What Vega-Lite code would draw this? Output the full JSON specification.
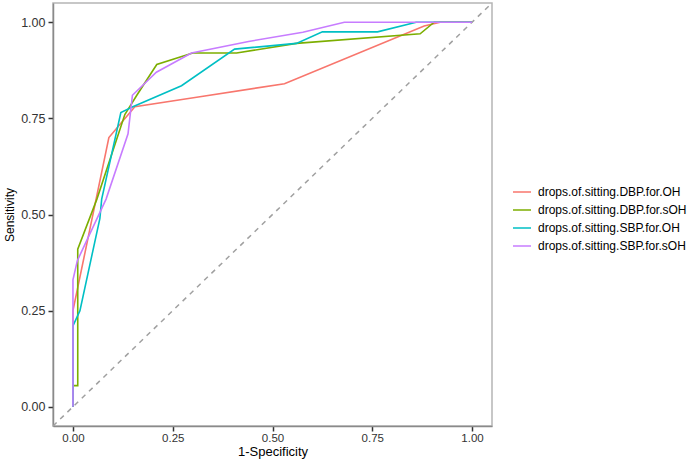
{
  "$schema": "https://vega.github.io/schema/vega-lite/v6.json",
  "autosize": {"type": "none"},
  "width": 439,
  "height": 423,
  "padding": {"left": 53, "top": 3, "right": 208, "bottom": 35},
  "background": "white",
  "config": {
    "font": "Liberation Sans",
    "view": {"stroke": "#b5b5b5", "strokeWidth": 1.5},
    "axis": {
      "grid": false,
      "domainColor": "#8a8a8a",
      "domainWidth": 1.5,
      "tickColor": "#333333",
      "tickWidth": 1.5,
      "tickSize": 5,
      "labelColor": "#333333",
      "labelFont": "Liberation Sans",
      "labelFontSize": 12.5,
      "titleFont": "Liberation Sans",
      "titleFontWeight": "normal",
      "titleColor": "#000000"
    }
  },
  "layer": [
    {
      "data": {"values": [{"fpr": -0.05, "tpr": -0.05}, {"fpr": 1.05, "tpr": 1.05}]},
      "mark": {"type": "line", "color": "#a0a0a0", "strokeDash": [5, 5], "strokeWidth": 1.5, "clip": true},
      "encoding": {
        "x": {"field": "fpr", "type": "quantitative", "scale": {"domain": [-0.05, 1.05], "nice": false, "zero": false}},
        "y": {"field": "tpr", "type": "quantitative", "scale": {"domain": [-0.05, 1.05], "nice": false, "zero": false}}
      }
    },
    {
      "data": {"values": [
        {"series": "drops.of.sitting.DBP.for.OH", "i": 0, "fpr": 0, "tpr": 0},
        {"series": "drops.of.sitting.DBP.for.OH", "i": 1, "fpr": 0, "tpr": 0.25},
        {"series": "drops.of.sitting.DBP.for.OH", "i": 2, "fpr": 0.09, "tpr": 0.70},
        {"series": "drops.of.sitting.DBP.for.OH", "i": 3, "fpr": 0.155, "tpr": 0.78},
        {"series": "drops.of.sitting.DBP.for.OH", "i": 4, "fpr": 0.31, "tpr": 0.805},
        {"series": "drops.of.sitting.DBP.for.OH", "i": 5, "fpr": 0.53, "tpr": 0.84},
        {"series": "drops.of.sitting.DBP.for.OH", "i": 6, "fpr": 0.88, "tpr": 0.99},
        {"series": "drops.of.sitting.DBP.for.OH", "i": 7, "fpr": 0.92, "tpr": 1.0},
        {"series": "drops.of.sitting.DBP.for.OH", "i": 8, "fpr": 1.0, "tpr": 1.0},
        {"series": "drops.of.sitting.DBP.for.sOH", "i": 0, "fpr": 0, "tpr": 0},
        {"series": "drops.of.sitting.DBP.for.sOH", "i": 1, "fpr": 0, "tpr": 0.055},
        {"series": "drops.of.sitting.DBP.for.sOH", "i": 2, "fpr": 0.012, "tpr": 0.055},
        {"series": "drops.of.sitting.DBP.for.sOH", "i": 3, "fpr": 0.012, "tpr": 0.41},
        {"series": "drops.of.sitting.DBP.for.sOH", "i": 4, "fpr": 0.06, "tpr": 0.54},
        {"series": "drops.of.sitting.DBP.for.sOH", "i": 5, "fpr": 0.13, "tpr": 0.76},
        {"series": "drops.of.sitting.DBP.for.sOH", "i": 6, "fpr": 0.16, "tpr": 0.81},
        {"series": "drops.of.sitting.DBP.for.sOH", "i": 7, "fpr": 0.21, "tpr": 0.89},
        {"series": "drops.of.sitting.DBP.for.sOH", "i": 8, "fpr": 0.30, "tpr": 0.92},
        {"series": "drops.of.sitting.DBP.for.sOH", "i": 9, "fpr": 0.41, "tpr": 0.92},
        {"series": "drops.of.sitting.DBP.for.sOH", "i": 10, "fpr": 0.56, "tpr": 0.945},
        {"series": "drops.of.sitting.DBP.for.sOH", "i": 11, "fpr": 0.87, "tpr": 0.97},
        {"series": "drops.of.sitting.DBP.for.sOH", "i": 12, "fpr": 0.905, "tpr": 1.0},
        {"series": "drops.of.sitting.DBP.for.sOH", "i": 13, "fpr": 1.0, "tpr": 1.0},
        {"series": "drops.of.sitting.SBP.for.OH", "i": 0, "fpr": 0, "tpr": 0},
        {"series": "drops.of.sitting.SBP.for.OH", "i": 1, "fpr": 0, "tpr": 0.21},
        {"series": "drops.of.sitting.SBP.for.OH", "i": 2, "fpr": 0.0175, "tpr": 0.25},
        {"series": "drops.of.sitting.SBP.for.OH", "i": 3, "fpr": 0.0675, "tpr": 0.49},
        {"series": "drops.of.sitting.SBP.for.OH", "i": 4, "fpr": 0.072, "tpr": 0.54},
        {"series": "drops.of.sitting.SBP.for.OH", "i": 5, "fpr": 0.12, "tpr": 0.765},
        {"series": "drops.of.sitting.SBP.for.OH", "i": 6, "fpr": 0.15, "tpr": 0.78},
        {"series": "drops.of.sitting.SBP.for.OH", "i": 7, "fpr": 0.272, "tpr": 0.835},
        {"series": "drops.of.sitting.SBP.for.OH", "i": 8, "fpr": 0.405, "tpr": 0.93},
        {"series": "drops.of.sitting.SBP.for.OH", "i": 9, "fpr": 0.56, "tpr": 0.945},
        {"series": "drops.of.sitting.SBP.for.OH", "i": 10, "fpr": 0.625, "tpr": 0.975},
        {"series": "drops.of.sitting.SBP.for.OH", "i": 11, "fpr": 0.763, "tpr": 0.975},
        {"series": "drops.of.sitting.SBP.for.OH", "i": 12, "fpr": 0.86, "tpr": 1.0},
        {"series": "drops.of.sitting.SBP.for.OH", "i": 13, "fpr": 1.0, "tpr": 1.0},
        {"series": "drops.of.sitting.SBP.for.sOH", "i": 0, "fpr": 0, "tpr": 0},
        {"series": "drops.of.sitting.SBP.for.sOH", "i": 1, "fpr": 0, "tpr": 0.33},
        {"series": "drops.of.sitting.SBP.for.sOH", "i": 2, "fpr": 0.011, "tpr": 0.38},
        {"series": "drops.of.sitting.SBP.for.sOH", "i": 3, "fpr": 0.083, "tpr": 0.54},
        {"series": "drops.of.sitting.SBP.for.sOH", "i": 4, "fpr": 0.138, "tpr": 0.71},
        {"series": "drops.of.sitting.SBP.for.sOH", "i": 5, "fpr": 0.149, "tpr": 0.81},
        {"series": "drops.of.sitting.SBP.for.sOH", "i": 6, "fpr": 0.209, "tpr": 0.87},
        {"series": "drops.of.sitting.SBP.for.sOH", "i": 7, "fpr": 0.297, "tpr": 0.92},
        {"series": "drops.of.sitting.SBP.for.sOH", "i": 8, "fpr": 0.44, "tpr": 0.95},
        {"series": "drops.of.sitting.SBP.for.sOH", "i": 9, "fpr": 0.576, "tpr": 0.974},
        {"series": "drops.of.sitting.SBP.for.sOH", "i": 10, "fpr": 0.68, "tpr": 1.0},
        {"series": "drops.of.sitting.SBP.for.sOH", "i": 11, "fpr": 1.0, "tpr": 1.0}
      ]},
      "mark": {"type": "line", "strokeWidth": 1.6},
      "encoding": {
        "x": {"field": "fpr", "type": "quantitative", "title": "1-Specificity",
              "scale": {"domain": [-0.05, 1.05], "nice": false, "zero": false},
              "axis": {"values": [0, 0.25, 0.5, 0.75, 1], "format": ".2f", "labelPadding": 1, "labelFontSize": 11.5, "titlePadding": 2, "titleFontSize": 13}},
        "y": {"field": "tpr", "type": "quantitative", "title": "Sensitivity",
              "scale": {"domain": [-0.05, 1.05], "nice": false, "zero": false},
              "axis": {"values": [0, 0.25, 0.5, 0.75, 1], "format": ".2f", "labelPadding": 3, "titlePadding": 4, "titleFontSize": 12}},
        "color": {"field": "series", "type": "nominal",
                  "scale": {"domain": ["drops.of.sitting.DBP.for.OH", "drops.of.sitting.DBP.for.sOH", "drops.of.sitting.SBP.for.OH", "drops.of.sitting.SBP.for.sOH"],
                            "range": ["#F8766D", "#7CAE00", "#00BFC4", "#C77CFF"]},
                  "legend": {"title": null, "orient": "none", "legendX": 459, "legendY": 179,
                             "symbolType": "stroke", "symbolSize": 324, "symbolStrokeWidth": 1.5,
                             "labelFont": "Liberation Sans", "labelFontSize": 12, "labelColor": "#000000",
                             "labelOffset": 6, "rowPadding": 2, "padding": 0}},
        "order": {"field": "i", "type": "quantitative"}
      }
    }
  ]
}
